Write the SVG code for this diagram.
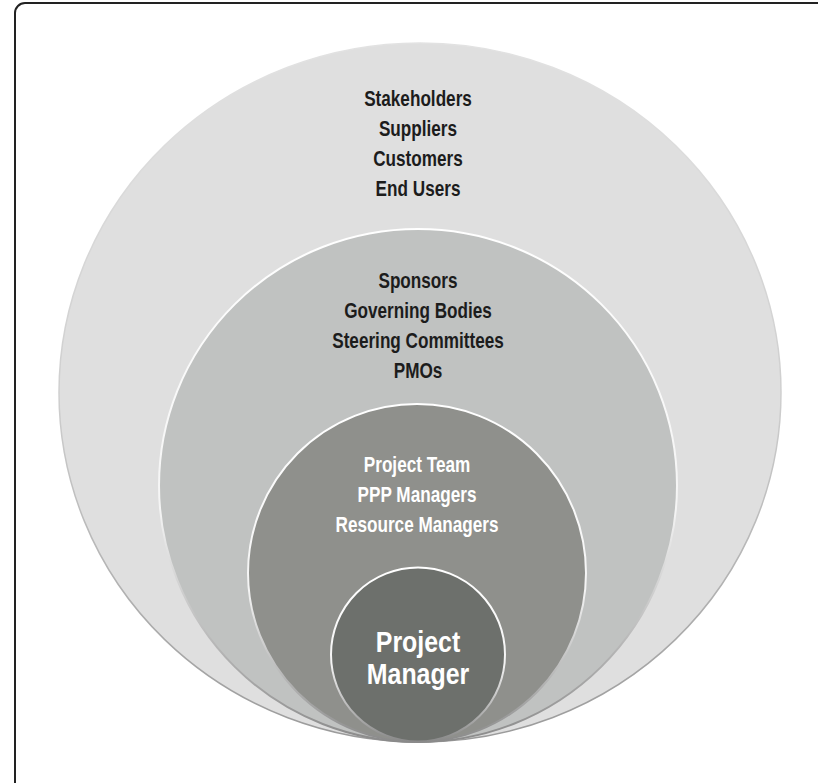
<svg xmlns="http://www.w3.org/2000/svg" width="818" height="783" viewBox="0 0 818 783">
<defs>
<linearGradient id="rim" x1="0" y1="0" x2="0" y2="1">
<stop offset="0" stop-color="#ffffff"/>
<stop offset="0.55" stop-color="#f4f4f4"/>
<stop offset="1" stop-color="#8a8a8a"/>
</linearGradient>
<linearGradient id="rimOuter" x1="0" y1="0" x2="0" y2="1">
<stop offset="0" stop-color="#e2e2e2"/>
<stop offset="0.5" stop-color="#cfcfcf"/>
<stop offset="1" stop-color="#9a9a9a"/>
</linearGradient>
</defs>
<style>
.ring{stroke:url(#rim);stroke-width:2}
.lbl{font-family:"Liberation Sans",Arial,sans-serif;font-weight:bold;font-size:22px;text-anchor:middle}
.dark{fill:#1c1c1c}
.light{fill:#ffffff}
.big{font-size:29px}
</style>
<rect x="15" y="3" width="830" height="800" rx="10" ry="10" fill="#ffffff" stroke="#222222" stroke-width="2"/>
<g id="outer">
<ellipse cx="420" cy="392.5" rx="361" ry="349.5" fill="#dfdfdf" stroke="url(#rimOuter)" stroke-width="1.5"/>
<g transform="translate(418,0) scale(0.78,1)">
<text class="lbl dark" x="0" y="106">Stakeholders</text>
<text class="lbl dark" x="0" y="136">Suppliers</text>
<text class="lbl dark" x="0" y="166">Customers</text>
<text class="lbl dark" x="0" y="196">End Users</text>
</g>
</g>
<g id="sponsors">
<ellipse cx="418" cy="485.5" rx="259" ry="256.5" fill="#c0c2c1" class="ring"/>
<g transform="translate(418,0) scale(0.78,1)">
<text class="lbl dark" x="0" y="288">Sponsors</text>
<text class="lbl dark" x="0" y="318">Governing Bodies</text>
<text class="lbl dark" x="0" y="348">Steering Committees</text>
<text class="lbl dark" x="0" y="378">PMOs</text>
</g>
</g>
<g id="team">
<circle cx="417" cy="573" r="169" fill="#8f908c" class="ring"/>
<g transform="translate(417,0) scale(0.78,1)">
<text class="lbl light" x="0" y="472">Project Team</text>
<text class="lbl light" x="0" y="502">PPP Managers</text>
<text class="lbl light" x="0" y="532">Resource Managers</text>
</g>
</g>
<g id="pm">
<circle cx="418" cy="654.5" r="87" fill="#6d706c" class="ring"/>
<g transform="translate(418,0) scale(0.86,1)">
<text class="lbl light big" x="0" y="652">Project</text>
<text class="lbl light big" x="0" y="684">Manager</text>
</g>
</g>
<g id="connectors"/>
</svg>
